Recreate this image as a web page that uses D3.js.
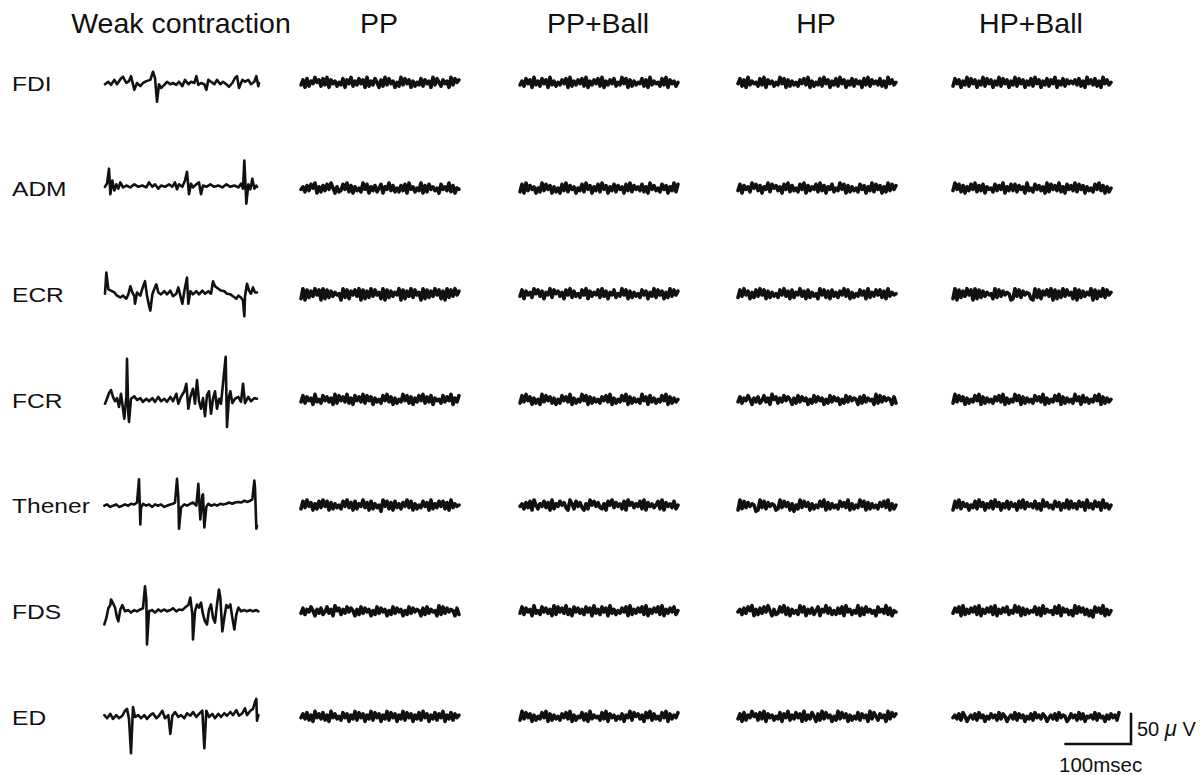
<!DOCTYPE html>
<html>
<head>
<meta charset="utf-8">
<script src="https://cdn.jsdelivr.net/npm/d3@7"></script>
<style>
  html, body { margin: 0; padding: 0; background: #fff; }
  svg { display: block; }
  text { font-family: "Liberation Sans", Arial, sans-serif; fill: #111; }
</style>
</head>
<body>
<svg id="chart" width="1200" height="775"></svg>
<script>
// ---------- data ----------
const muscles = ["FDI", "ADM", "ECR", "FCR", "Thener", "FDS", "ED"];
const conditions = ["Weak contraction", "PP", "PP+Ball", "HP", "HP+Ball"];
const scaleTime = 100;   // ms  (scale bar)
const scaleVolt = 50;    // µV  (scale bar)

// Weak contraction traces: [time ms, amplitude µV]
const weakFDI = [[3,-2],[8,2],[12,-3],[17,5],[21,-2],[26,6],[30,10],[35,0],[39,3],[42,11],[47,-11],[51,0],[56,-5],[60,0],[65,3],[71,5],[75,18],[78,8],[81,-30],[84,-2],[87,-8],[92,-3],[96,2],[101,-2],[105,0],[110,-3],[114,2],[119,-5],[123,5],[128,-2],[132,2],[137,0],[140,11],[143,-3],[147,0],[152,-2],[155,-11],[158,5],[162,2],[167,-2],[171,5],[176,-2],[180,2],[185,-2],[189,-6],[194,0],[198,8],[201,11],[204,-8],[209,5],[213,2],[218,5],[222,-2],[227,2],[230,11],[233,-5],[234,0]];
const weakADM = [[3,3],[6,8],[9,32],[11,-9],[14,13],[17,-3],[20,7],[23,0],[26,10],[30,2],[35,5],[41,2],[47,7],[53,3],[59,5],[65,2],[69,10],[74,3],[78,7],[83,0],[87,5],[93,3],[99,7],[104,3],[108,10],[111,-1],[114,7],[119,3],[123,13],[126,27],[129,-9],[132,8],[135,2],[140,7],[144,10],[147,-9],[150,5],[155,3],[161,7],[167,3],[173,5],[179,2],[185,7],[191,3],[197,5],[203,2],[207,8],[210,0],[212,45],[215,-24],[218,7],[221,-1],[224,16],[227,0],[230,5],[231,3]];
const weakECR = [[3,1],[5,35],[8,8],[12,6],[17,3],[21,-2],[26,-5],[30,-2],[35,-7],[38,0],[41,13],[44,3],[47,-3],[48,-15],[51,3],[56,-2],[59,9],[63,21],[66,-2],[69,-18],[71,-26],[74,0],[77,9],[80,16],[83,3],[87,0],[92,5],[96,0],[101,6],[105,-3],[110,1],[113,11],[116,-2],[119,-15],[122,5],[126,27],[128,-15],[131,5],[135,0],[140,5],[144,0],[149,6],[153,1],[158,5],[162,1],[165,21],[168,13],[173,9],[177,6],[182,5],[186,1],[191,0],[195,-3],[200,-7],[203,-2],[207,-5],[210,-10],[212,-35],[213,-3],[216,17],[219,6],[222,1],[225,11],[228,3],[231,3]];
const weakFCR = [[3,-6],[6,2],[9,11],[12,16],[15,5],[18,-2],[21,3],[24,-11],[27,10],[30,-14],[32,-30],[35,5],[36,66],[38,-22],[39,-35],[42,2],[47,6],[51,0],[56,3],[60,-3],[65,2],[69,-2],[74,3],[78,-3],[83,5],[87,-2],[92,2],[96,-3],[101,5],[105,-2],[110,10],[113,-6],[117,5],[122,14],[125,26],[128,-14],[131,5],[135,18],[138,-6],[141,32],[144,-2],[147,-14],[150,3],[153,-26],[156,8],[159,14],[162,-22],[165,2],[168,14],[171,-14],[174,2],[177,-6],[184,69],[186,-43],[189,5],[191,14],[194,-5],[198,2],[203,5],[207,-3],[210,26],[213,-5],[218,5],[222,-2],[227,3],[231,2]];
const weakThener = [[2,0],[6,2],[11,-2],[15,0],[20,2],[24,-2],[29,0],[33,2],[38,0],[42,3],[47,2],[51,5],[54,42],[56,-30],[57,-3],[60,3],[65,0],[69,2],[74,-2],[78,2],[83,0],[87,2],[92,-2],[96,0],[101,2],[105,3],[108,5],[111,43],[113,13],[114,-37],[117,-3],[122,2],[126,0],[131,3],[135,5],[140,0],[143,35],[146,-22],[149,16],[150,18],[152,-35],[155,-2],[158,3],[162,0],[167,2],[171,0],[176,3],[180,2],[185,3],[189,5],[194,3],[198,5],[203,6],[207,5],[212,8],[216,6],[221,8],[224,10],[227,40],[228,29],[230,-37],[231,-32]];
const weakFDS = [[2,-21],[5,-11],[8,5],[11,10],[12,19],[15,13],[18,6],[21,-10],[23,-16],[26,3],[29,10],[33,0],[38,2],[42,-2],[47,2],[51,0],[56,3],[60,5],[63,40],[65,19],[66,-53],[69,0],[74,2],[78,-2],[83,3],[87,0],[92,3],[96,0],[101,2],[105,5],[110,0],[114,3],[119,2],[123,6],[128,10],[131,22],[134,-5],[135,-45],[138,0],[141,11],[144,6],[147,14],[150,-5],[153,-16],[156,-21],[159,3],[162,11],[165,-10],[168,-18],[171,11],[174,35],[176,22],[179,-32],[182,-10],[185,10],[188,6],[191,11],[194,-10],[197,-29],[200,-5],[203,6],[207,0],[212,2],[216,0],[221,2],[225,0],[230,2],[233,0]];
const weakED = [[2,3],[6,-2],[11,5],[15,-3],[20,3],[24,-2],[29,2],[33,10],[36,13],[39,-3],[42,-58],[45,16],[48,0],[53,3],[57,-2],[62,3],[66,-3],[71,3],[75,6],[80,-2],[84,2],[89,10],[93,-2],[98,3],[101,-27],[104,2],[108,8],[113,0],[117,3],[122,-2],[126,6],[131,2],[135,8],[140,0],[144,5],[149,10],[152,-50],[155,10],[159,0],[164,5],[168,-2],[173,5],[177,0],[182,6],[186,2],[191,8],[195,3],[200,11],[204,2],[209,6],[213,14],[216,3],[221,10],[225,13],[228,24],[230,29],[231,-6],[233,3]];

// Relaxed-condition traces (background noise): one digit per 3 ms sample,
// digit 0..9 stands for −9 .. +9 µV.
const noiseStep = 3;
const noisePP = [
  "37182649572839174625381749263847192638517293846152938471625382746193852746193857",
  "46273859162738495162384927163529481637258164937252738194625391728463518463927154",
  "19082739480918273645092817483908172938461908273649081739284609182739481709283947",
  "38274619352847361928473926184739284716352849371625394827163849273816452837491638",
  "28394716283948172635284937182649371826350948271836274938162538471926384827193645",
  "37264851637248361957263847516283746152837461528374615283746517283645192837465172",
  "47382619473826194735284716392847163928471639284716392847163829471638274916382746"
];
const noisePPBall = [
  "36284719362847193625374819263748291637482916374825394817263548271936452839174625",
  "28193746152938471625183927461538294716382947163827461839274638261947352847163928",
  "38174629583716492857361849273528491736482937164825394817263528471639284716293847",
  "28394716251938472615284739162539481726352748391625384917263529471836253849172635",
  "46273819526483719264857319628473162958473261859374628195736482917463582917463825",
  "38274619352847361928473926184736284719362847193625374819263748291637482916374825",
  "29384716253849172635274839162548271936452839174625371649285736184927352849173648"
];
const noiseHP = [
  "48271936452839174625394817263527483916253829471638294716382746183927463826194735",
  "38174629583716492857361849273528491736482937164825394817263528471639284716293847",
  "28394716283948172635284937182649371826351948271836274938162538471926384827193645",
  "37264851637248361957263847516283746152837461528374615283746517283645192837465172",
  "19283746501938274651293847160529384716253849172635284739162539481726352748391625",
  "46273859162738495162384927163529481637258164937252738194625391728463518463927154",
  "37182649572839174625381749263847192638517293846152938471625382746193852746193857"
];
const noiseHPBall = [
  "28471639284716392847163928471639284716382947163827491638274647382619473826194735",
  "39482716384927381645283749163838274619352847361928473926184739284716352849371625",
  "19082739480918273645192837465019382746510928174839081729384619082736490817392846",
  "29384716253849172635274839162539481726352847391625384917263529471836253849172635",
  "18392746153829471638294716382746183927463826194735284716392836284719362847193625",
  "37481926374829163748291637482539481726354827193645283917462519384726150847391625",
  "463728514637284615374628375146382746153728463751463728465137462837154638274516374628"
];

// ---------- layout ----------
const svg = d3.select("#chart");
const rowY = d3.scalePoint().domain(muscles).range([83, 717]);
const colX = d3.scaleOrdinal().domain(conditions).range([103, 301, 520, 738, 953]);
const time = d3.scaleLinear().domain([0, 234]).range([0, 156]);
const volt = d3.scaleLinear().domain([-50, 50]).range([31.25, -31.25]);

const weakTraces = [weakFDI, weakADM, weakECR, weakFCR, weakThener, weakFDS, weakED];
const noiseByCondition = { "PP": noisePP, "PP+Ball": noisePPBall, "HP": noiseHP, "HP+Ball": noiseHPBall };

// Column titles
svg.selectAll("text.title").data(conditions).join("text")
  .attr("class", "title")
  .attr("x", c => colX(c) + time(117))
  .attr("y", 33)
  .attr("text-anchor", "middle")
  .style("font-size", "28.5px")
  .text(c => c);

// Row labels (the source figure is slightly stretched horizontally)
svg.selectAll("text.row").data(muscles).join("text")
  .attr("class", "row")
  .attr("transform", m => `translate(12,${rowY(m) + 7.5}) scale(1.17,1)`)
  .style("font-size", "21px")
  .text(m => m);

// Weak contraction traces
const g = svg.append("g");
muscles.forEach((m, i) => {
  const x0 = colX("Weak contraction"), y0 = rowY(m);
  const line = d3.line().x(d => x0 + time(d[0])).y(d => y0 + volt(d[1]));
  g.append("path")
    .attr("d", line(weakTraces[i]))
    .attr("fill", "none").attr("stroke", "#111")
    .attr("stroke-width", 2.6).attr("stroke-linejoin", "round").attr("stroke-linecap", "round");
});

// Noise traces
conditions.slice(1).forEach(c => {
  const x0 = colX(c);
  muscles.forEach((m, i) => {
    const y0 = rowY(m);
    const vals = noiseByCondition[c][i].split("").map((ch, k) => [k * noiseStep, (+ch - 4.5) * 2.0]);
    const line = d3.line().x(d => x0 + time(d[0])).y(d => y0 + volt(d[1]));
    g.append("path")
      .attr("d", line(vals))
      .attr("fill", "none").attr("stroke", "#111")
      .attr("stroke-width", 3.6).attr("stroke-linejoin", "round").attr("stroke-linecap", "round");
  });
});

// Scale bar
const sbX = 1131, sbY = 744;
const sbW = time(scaleTime) - time(0);
const sbH = volt(0) - volt(scaleVolt);
svg.append("path")
  .attr("d", `M${sbX - sbW},${sbY}H${sbX}V${sbY - sbH}`)
  .attr("fill", "none").attr("stroke", "#111").attr("stroke-width", 2.6);
const t50 = svg.append("text").attr("x", sbX + 6).attr("y", sbY - 8).style("font-size", "20px");
t50.append("tspan").text(scaleVolt + " ");
t50.append("tspan").style("font-style", "italic").style("font-size", "22px").text("μ");
t50.append("tspan").text(" V");
svg.append("text").attr("x", sbX - sbW / 2 + 3).attr("y", 772)
  .attr("text-anchor", "middle").style("font-size", "20.5px").text(scaleTime + "msec");
</script>
</body>
</html>
